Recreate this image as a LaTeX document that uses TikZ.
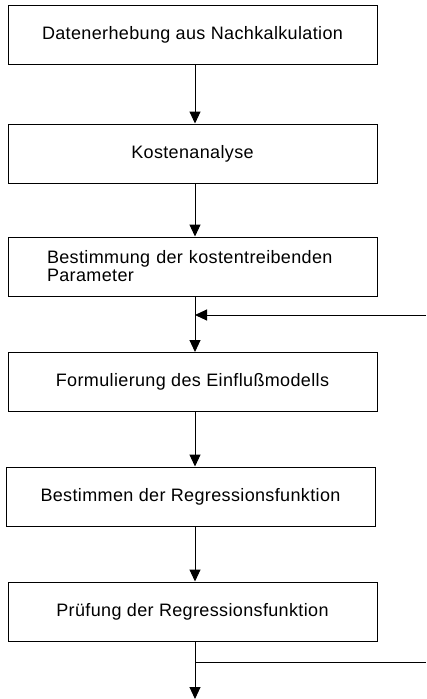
\documentclass[tikz,border=0pt]{standalone}
\usepackage{fontspec}
\setmainfont{Liberation Sans}
\newfontfamily\boxfont[LetterSpace=2]{Liberation Sans}
\usetikzlibrary{arrows.meta}
\begin{document}
\begin{tikzpicture}[x=1pt,y=-1pt,
  stepbox/.style={draw=black, line width=1pt, rectangle, minimum width=369pt,
    minimum height=59pt, inner sep=0pt, font=\boxfont\fontsize{18}{18}\selectfont},
  flow/.style={draw=black, line width=1pt, -{Triangle[length=12pt,width=11pt]}},
  plain/.style={draw=black, line width=1pt}]
  \useasboundingbox (0,0) rectangle (426,699);
  \fill[white] (0,0) rectangle (426,699);

  % process steps
  \node[stepbox] (b1) at (192.5,34.5) {Datenerhebung aus Nachkalkulation};
  \node[stepbox] (b2) at (192.5,153.5) {Kostenanalyse};
  \node[stepbox, text width=291pt, align=left] (b3) at (192.5,266.5)
    {Bestimmung der kostentreibenden\\Parameter};
  \node[stepbox] (b4) at (192.5,382) {Formulierung des Einflußmodells};
  \node[stepbox] (b5) at (190.5,496.5) {Bestimmen der Regressionsfunktion};
  \node[stepbox] (b6) at (192.5,611.5) {Prüfung der Regressionsfunktion};

  % junction points on the main line
  \coordinate (m1) at (195,315);
  \coordinate (fb) at (426,315);
  \coordinate (m2) at (195,662);
  \coordinate (out) at (426,662);
  \coordinate (end) at (195,699);

  % connectors
  \draw[flow] (b1.south -| m1) -- (b2.north -| m1);
  \draw[flow] (b2.south -| m1) -- (b3.north -| m1);
  \draw[flow] (b3.south -| m1) -- (b4.north -| m1);
  \draw[flow] (fb) -- (m1);
  \draw[flow] (b4.south -| m1) -- (b5.north -| m1);
  \draw[flow] (b5.south -| m1) -- (b6.north -| m1);
  \draw[flow] (b6.south -| m1) -- (end);
  \draw[plain] (m2) -- (out);
\end{tikzpicture}
\end{document}
